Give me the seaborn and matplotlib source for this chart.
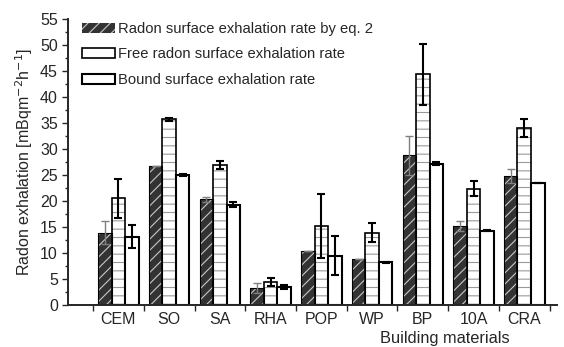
import numpy as np
import pandas as pd
import seaborn as sns
import matplotlib.pyplot as plt
from matplotlib.patches import Patch, Rectangle
from matplotlib.ticker import MultipleLocator, FixedLocator

# data
materials = ["CEM", "SO", "SA", "RHA", "POP", "WP", "BP", "10A", "CRA"]
series_names = ["Radon surface exhalation rate by eq. 2",
                "Free radon surface exhalation rate",
                "Bound surface exhalation rate"]
rate_eq2 = [13.9, 26.7, 20.3, 3.3, 10.4, 8.8, 28.8, 15.2, 24.8]
rate_free = [20.5, 35.7, 26.9, 4.4, 15.2, 13.9, 44.4, 22.4, 34.1]
rate_bound = [13.1, 25.0, 19.3, 3.5, 9.5, 8.2, 27.2, 14.3, 23.4]
err_eq2 = [2.2, 0.0, 0.5, 1.0, 0.0, 0.0, 3.8, 0.9, 1.4]
err_free = [3.8, 0.3, 0.8, 0.8, 6.1, 1.8, 5.9, 1.5, 1.7]
err_bound = [2.2, 0.2, 0.5, 0.4, 3.8, 0.1, 0.3, 0.1, 0.0]

sns.set_style("ticks")
plt.rcParams["font.family"] = ["Liberation Sans", "DejaVu Sans"]
plt.rcParams["hatch.linewidth"] = 0.8

df = pd.DataFrame({
    "material": materials * 3,
    "series": np.repeat(series_names, len(materials)),
    "value": rate_eq2 + rate_free + rate_bound,
})

fig, ax = plt.subplots(figsize=(5.64, 3.47), dpi=100)
fig.subplots_adjust(left=0.12, right=0.988, bottom=0.121, top=0.945)

sns.barplot(data=df, x="material", y="value", hue="series", order=materials,
            hue_order=series_names, palette=["#333333", "white", "white"],
            saturation=1, errorbar=None, width=0.8, legend=False, ax=ax)

def outline(p, lw):
    ax.add_patch(Rectangle((p.get_x(), p.get_y()), p.get_width(), p.get_height(),
                           fill=False, edgecolor="black", linewidth=lw, zorder=2.5))

for p in ax.containers[0]:
    p.set_hatch("///")
    p.set_edgecolor("#c8c8c8")
    p.set_linewidth(0)
    outline(p, 0.8)
for p in ax.containers[1]:
    p.set_hatch("--")
    p.set_edgecolor("#9a9a9a")
    p.set_linewidth(0)
    outline(p, 1.2)
for p in ax.containers[2]:
    p.set_edgecolor("black")
    p.set_linewidth(1.5)

# error bars
styles = [("#808080", 1.0), ("black", 1.5), ("black", 1.5)]
for cont, vals, errs, (col, lw) in zip(ax.containers,
                                       [rate_eq2, rate_free, rate_bound],
                                       [err_eq2, err_free, err_bound], styles):
    xs = [p.get_x() + p.get_width() / 2 for p in cont]
    ax.errorbar(xs, vals, yerr=errs, fmt="none", ecolor=col, elinewidth=lw,
                capsize=3, capthick=lw, zorder=3)

ax.set_ylim(0, 55)
ax.set_xlim(-1, 8.65)
ax.yaxis.set_major_locator(MultipleLocator(5))
ax.yaxis.set_minor_locator(MultipleLocator(2.5))
ax.xaxis.set_minor_locator(FixedLocator(np.arange(-0.5, 9, 1)))
ax.tick_params(axis="x", which="major", length=0, labelsize=11.5, pad=5)
ax.tick_params(axis="x", which="minor", length=4, width=1)
ax.tick_params(axis="y", which="major", length=4, width=1, labelsize=11.5, pad=3)
ax.tick_params(axis="y", which="minor", length=2.5, width=1)
sns.despine(ax=ax)
for s in ["left", "bottom"]:
    ax.spines[s].set_linewidth(1.4)

ax.set_ylabel("Radon exhalation [mBqm$^{-2}$h$^{-1}$]", fontsize=11.5, labelpad=4)
ax.set_xlabel("Building materials", fontsize=11.8)
ax.xaxis.set_label_coords(0.77, -0.09)

handles = [Patch(facecolor="#333333", edgecolor="#c8c8c8", hatch="///", linewidth=0),
           Patch(facecolor="white", edgecolor="black", linewidth=1.2),
           Patch(facecolor="white", edgecolor="black", linewidth=1.5)]
ax.legend(handles, series_names, loc="upper left", bbox_to_anchor=(0.03, 0.99),
          frameon=False, fontsize=10.6, handlelength=2.2, handleheight=0.7,
          handletextpad=0.2, labelspacing=0.78, borderaxespad=0, borderpad=0)

fig.savefig("out.png", dpi=100)
